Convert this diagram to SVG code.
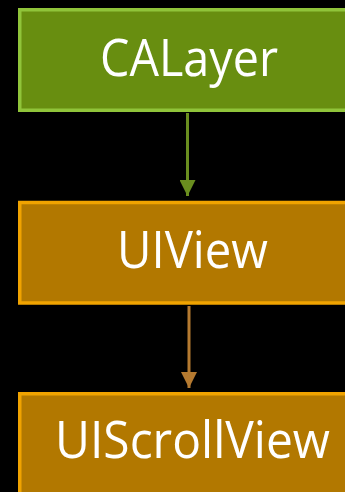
<svg xmlns="http://www.w3.org/2000/svg" width="345" height="492" viewBox="0 0 345 492">
  <defs>
    <style>
      .label { font-family: "Open Sans", "Noto Sans", sans-serif; font-size: 52px; fill: #ffffff; text-anchor: middle; }
      .green { fill: #688e10; stroke: #90c43a; stroke-width: 3.5; }
      .orange { fill: #b27800; stroke: #f0a300; stroke-width: 3.5; }
    </style>
    <!-- arrowheads drawn pointing along +x; orient="auto" turns them to follow the line -->
    <marker id="headGreen" viewBox="0 0 16 16" refX="16" refY="8" markerWidth="16" markerHeight="16" markerUnits="userSpaceOnUse" orient="auto">
      <path d="M0 0 L16 8 L0 16 Z" fill="#6a8e1f"/>
    </marker>
    <marker id="headOrange" viewBox="0 0 16 16" refX="16" refY="8" markerWidth="16" markerHeight="16" markerUnits="userSpaceOnUse" orient="auto">
      <path d="M0 0 L16 8 L0 16 Z" fill="#b57a30"/>
    </marker>
  </defs>
  <rect width="345" height="492" fill="#000000"/>

  <g id="connectors">
    <line x1="187.5" y1="113" x2="187.5" y2="196" stroke="#6a8e1f" stroke-width="3" marker-end="url(#headGreen)"/>
    <line x1="189" y1="306" x2="189" y2="388" stroke="#b57a30" stroke-width="3" marker-end="url(#headOrange)"/>
  </g>

  <g id="calayer">
    <rect class="green" x="19.75" y="9.75" width="345" height="100.5"/>
    <text class="label" x="189" y="76" textLength="178" lengthAdjust="spacingAndGlyphs">CALayer</text>
  </g>

  <g id="uiview">
    <rect class="orange" x="19.75" y="202.5" width="345" height="100.5"/>
    <text class="label" x="192.5" y="268" textLength="151" lengthAdjust="spacingAndGlyphs">UIView</text>
  </g>

  <g id="uiscrollview">
    <rect class="orange" x="19.75" y="393.75" width="345" height="120"/>
    <text class="label" x="192.5" y="458" textLength="275" lengthAdjust="spacingAndGlyphs">UIScrollView</text>
  </g>
</svg>
